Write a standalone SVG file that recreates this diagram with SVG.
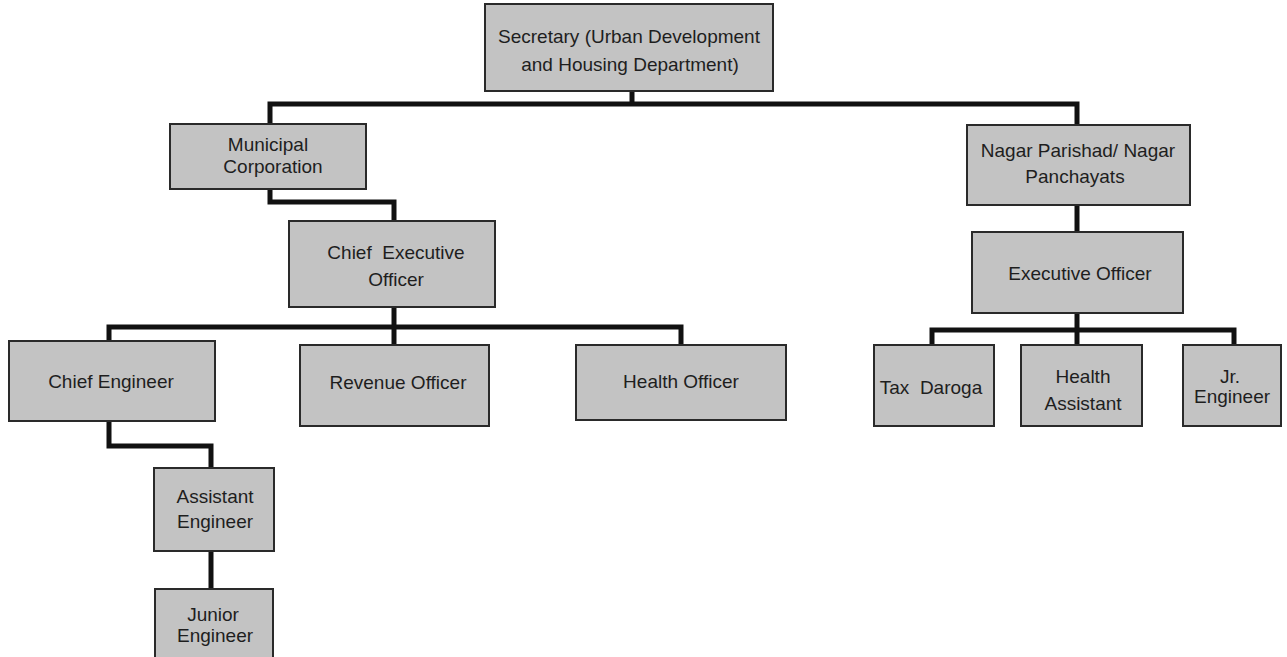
<svg xmlns="http://www.w3.org/2000/svg" width="1287" height="657" viewBox="0 0 1287 657">
<style>
.box{fill:#c3c3c3;stroke:#2a2a2a;stroke-width:2}
.lbl{font-family:"Liberation Sans",Arial,sans-serif;font-size:19px;fill:#1e1e1e;text-anchor:middle}
.con{fill:none;stroke:#111;stroke-width:5;stroke-linejoin:miter;stroke-linecap:butt}
</style>
<rect width="1287" height="657" fill="#fff"/>
<g id="connectors">
<path class="con" d="M632,91 V104"/>
<path class="con" d="M270,124 V104 H1077 V125"/>
<path class="con" d="M270,189 V202 H394 V221"/>
<path class="con" d="M394,307 V346"/>
<path class="con" d="M109,341 V327 H681 V345"/>
<path class="con" d="M109,421 V446 H211 V468"/>
<path class="con" d="M211,551 V589"/>
<path class="con" d="M1077,205 V232"/>
<path class="con" d="M1077,313 V345"/>
<path class="con" d="M932,345 V330 H1234 V345"/>
</g>
<g id="secretary"><rect class="box" x="485" y="4" width="288" height="87"/>
<text class="lbl" x="629" y="43">Secretary (Urban Development</text>
<text class="lbl" x="630" y="71">and Housing Department)</text></g>
<g id="municipal"><rect class="box" x="170" y="124" width="196" height="65"/>
<text class="lbl" x="268" y="151">Municipal</text>
<text class="lbl" x="273" y="173">Corporation</text></g>
<g id="ceo"><rect class="box" x="289" y="221" width="206" height="86"/>
<text class="lbl" x="396" y="259" xml:space="preserve">Chief  Executive</text>
<text class="lbl" x="396" y="286">Officer</text></g>
<g id="chief-engineer"><rect class="box" x="9" y="341" width="206" height="80"/>
<text class="lbl" x="111" y="388">Chief Engineer</text></g>
<g id="revenue-officer"><rect class="box" x="300" y="345" width="189" height="81"/>
<text class="lbl" x="398" y="389">Revenue Officer</text></g>
<g id="health-officer"><rect class="box" x="576" y="345" width="210" height="75"/>
<text class="lbl" x="681" y="388">Health Officer</text></g>
<g id="assistant-engineer"><rect class="box" x="154" y="468" width="120" height="83"/>
<text class="lbl" x="215" y="503">Assistant</text>
<text class="lbl" x="215" y="528">Engineer</text></g>
<g id="junior-engineer"><rect class="box" x="155" y="589" width="118" height="80"/>
<text class="lbl" x="213" y="621">Junior</text>
<text class="lbl" x="215" y="642">Engineer</text></g>
<g id="nagar"><rect class="box" x="967" y="125" width="223" height="80"/>
<text class="lbl" x="1078" y="157">Nagar Parishad/ Nagar</text>
<text class="lbl" x="1075" y="183">Panchayats</text></g>
<g id="executive-officer"><rect class="box" x="972" y="232" width="211" height="81"/>
<text class="lbl" x="1080" y="280">Executive Officer</text></g>
<g id="tax-daroga"><rect class="box" x="874" y="345" width="120" height="81"/>
<text class="lbl" x="931" y="394" xml:space="preserve">Tax  Daroga</text></g>
<g id="health-assistant"><rect class="box" x="1021" y="345" width="121" height="81"/>
<text class="lbl" x="1083" y="383">Health</text>
<text class="lbl" x="1083" y="410">Assistant</text></g>
<g id="jr-engineer"><rect class="box" x="1183" y="345" width="98" height="81"/>
<text class="lbl" x="1230" y="383">Jr.</text>
<text class="lbl" x="1232" y="403">Engineer</text></g>
</svg>
